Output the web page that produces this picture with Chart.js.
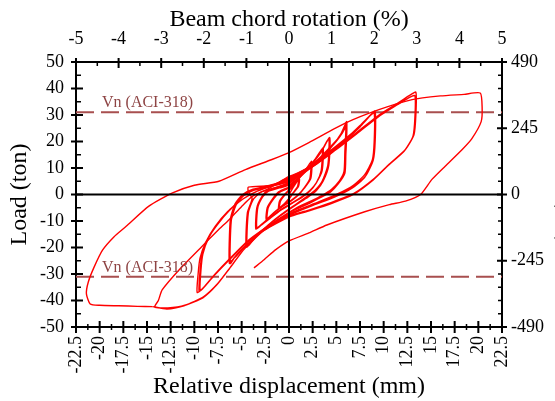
<!DOCTYPE html>
<html>
<head>
<meta charset="utf-8">
<script src="https://cdn.jsdelivr.net/npm/chart.js@4.4.0/dist/chart.umd.min.js"></script>
<style>
  html, body { margin: 0; padding: 0; background: #fff; overflow: hidden; }
  #wrap { position: relative; width: 580px; height: 401px; }
</style>
</head>
<body>
<div id="wrap"><canvas id="hyst"></canvas></div>
<script>
// axis ticks
const dispTicks = [-22.5, -20, -17.5, -15, -12.5, -10, -7.5, -5, -2.5, 0, 2.5, 5, 7.5, 10, 12.5, 15, 17.5, 20, 22.5];
const rotTicks = [-5, -4, -3, -2, -1, 0, 1, 2, 3, 4, 5];
const loadTicks = [-50, -40, -30, -20, -10, 0, 10, 20, 30, 40, 50];
const kNTicks = [-490, -245, 0, 245, 490];

// nominal shear capacity (ton)
const vn = 31;

// load history [displacement mm, load ton], one array per amplitude stage
const stage1 = [[0,0],[0.5,3],[1.0,5.5],[0.9,3],[0.4,0.5],[0,-1.5],[-0.5,-3.5],[-1.0,-5],[-0.9,-2.5],[-0.4,0],[0,1.5],[0.5,3.5],[1.1,6],[1.0,3],[0.4,0.3],[0,-1.8],[-0.5,-3.8],[-1.1,-5.5],[-1.0,-2.5],[-0.4,0.3],[0,1.8]];
const stage2 = [[0,1.8],[0.8,5],[1.6,8.5],[2.3,12],[2.2,6],[1.6,2.5],[1.0,0],[0.3,-2],[-0.6,-4],[-1.5,-6.5],[-2.3,-9],[-2.2,-5],[-1.6,-1.5],[-1.0,0.8],[0,2.5],[0.8,5.5],[1.7,9],[2.4,12.5],[2.3,6],[1.6,2.3],[1.0,-0.2],[0.2,-2.5],[-0.7,-4.5],[-1.6,-7],[-2.4,-9.5],[-2.3,-5],[-1.7,-1.5],[-1.1,1],[0,2.8]];
const stage3 = [[0,2.8],[1.0,6],[2.0,9.5],[2.8,13.5],[3.5,17],[3.4,9],[2.9,4.5],[2.2,1.5],[1.5,-0.5],[0.5,-2.8],[-0.8,-5.5],[-2.0,-8.5],[-2.8,-11],[-3.4,-12.5],[-3.3,-5],[-2.8,-1],[-2.2,1.2],[-1,2.5],[0,3.5],[1.0,6.5],[2.0,10],[2.9,14],[3.6,17.5],[3.5,9],[2.9,4.5],[2.2,1.2],[1.4,-1],[0.4,-3.2],[-0.9,-6],[-2.0,-9],[-2.9,-11.5],[-3.5,-13],[-3.4,-5],[-2.9,-1],[-2.3,1.5],[-1,3],[0,4]];
const stage4 = [[0,4],[1.2,7.5],[2.3,11],[3.3,15.5],[4.2,21],[4.1,11],[3.5,5],[2.8,1.8],[2.0,-0.5],[0.8,-3.5],[-0.8,-7.5],[-2.2,-11.5],[-3.4,-15.5],[-4.4,-19.5],[-4.3,-7],[-3.8,-2],[-3.0,0.8],[-1.5,2.5],[0,4.5],[1.3,8],[2.4,11.5],[3.4,16],[4.3,21.5],[4.2,11],[3.6,5],[2.9,1.5],[2.0,-1],[0.7,-4],[-0.9,-8],[-2.3,-12],[-3.5,-16],[-4.5,-19.8],[-4.4,-7],[-3.9,-1.5],[-4.3,1.2],[-4.3,2.8],[-2,3.3],[0,4.8]];
const stage5 = [[0,4.8],[1.5,8],[3,12],[4.5,18],[5.5,23],[6.1,27.5],[6.0,17],[5.9,9],[5.3,5],[4.5,2],[3.5,-0.3],[2.3,-2.5],[0.8,-5],[-1,-9],[-2.8,-13.5],[-4.5,-19],[-5.6,-23],[-6.2,-26],[-6.1,-10],[-5.6,-4],[-4.8,-0.5],[-3.8,1.5],[-2,3],[0,5],
  [1.5,8.5],[3,12.5],[4.5,18],[5.5,22.5],[6.0,26.5],[5.9,16],[5.8,8.5],[5.2,4.5],[4.4,1.5],[3.4,-0.8],[2.2,-3],[0.6,-5.5],[-1.2,-9.5],[-3,-14],[-4.6,-19.5],[-5.7,-23.5],[-6.3,-26],[-6.2,-10],[-5.7,-4],[-4.9,-0.5],[-3.8,1.7],[-2,3.2],[0,5.2],
  [1.5,8.8],[3,13],[4.5,18.5],[5.6,23],[6.1,26],[6.0,15],[5.9,8],[5.2,4],[4.4,1],[3.3,-1.2],[2.1,-3.4],[0.5,-6],[-1.3,-10],[-3.1,-14.5],[-4.7,-20],[-5.8,-24],[-6.3,-25.5],[-6.2,-9.5],[-5.7,-3.5],[-4.9,0],[-3.8,2],[-2,3.5],[0,5.5]];
const stage6 = [[0,5.5],[2,9.5],[4,14.5],[6,20.5],[7.5,25.5],[8.5,29.5],[9.0,31],[9.0,20],[8.8,13],[8.0,7.5],[6.8,3.5],[5,0],[3,-3],[0.5,-6.5],[-2,-11.5],[-4.2,-17],[-6.2,-24],[-7.8,-30],[-9,-35],[-9.7,-37],[-9.6,-30],[-9.4,-24],[-8.8,-18],[-7.8,-12],[-6.5,-6.5],[-5,-2],[-3.5,1],[-2,3],[0,6],
  [2,10],[4,15],[6,21],[7.5,26],[8.6,30],[9.1,31.5],[9.1,20],[8.9,13],[8.1,7],[6.8,3],[4.9,-0.5],[2.8,-3.5],[0.3,-7],[-2.1,-12],[-4.3,-17.5],[-6.3,-24.5],[-7.9,-30.5],[-9.1,-35.5],[-9.5,-36.5],[-9.4,-29],[-9.2,-23],[-8.6,-17],[-7.6,-11.5],[-6.3,-6],[-4.9,-1.8],[-3.4,1.2],[-1.9,3.2],[0,6.3],
  [2,10.2],[4,15.5],[6,21.2],[7.6,26],[8.6,29.8],[9.0,30.8],[9.0,19.5],[8.8,12.5],[8.0,6.5],[6.7,2.5],[4.8,-1],[2.6,-4],[0.2,-7.5],[-2.2,-12.5],[-4.4,-18],[-6.4,-25],[-8,-31],[-9.1,-35.5],[-9.4,-36],[-9.3,-28.5],[-9.1,-22.5],[-8.5,-16.5],[-7.5,-11],[-6.2,-5.5],[-4.8,-1.5],[-3.3,1.4],[-1.8,3.4],[0,6.5]];
const stage7 = [[0,6.5],[2.5,11],[5,17.5],[7,23],[9.5,30],[11.5,34.5],[12.7,37.3],[13.4,38.6],[13.4,30],[13.2,22.5],[12.3,17],[10.6,11.5],[9,6],[6.9,0.5],[4.5,-3],[2,-6],[0,-8],[-2.5,-13],[-4.6,-20],[-6.2,-27.5],[-7.5,-33.5],[-9,-38.5],[-11,-41.8],[-12.8,-42.8],[-14.2,-42.5],[-13.8,-40],[-13.4,-36],[-11.5,-28],[-9.2,-19.6],[-7.5,-13.5],[-6.3,-9.4],[-5,-4.5],[-3.9,-0.8],[-2,2.5],[0,6.8],
  [2.5,10.5],[5,17],[7,22.5],[9.5,29.5],[11.5,34],[12.6,36.4],[13.3,37.3],[13.3,29],[13.1,22],[12.2,16.5],[10.5,11],[8.9,5.5],[6.8,0],[4.4,-3.5],[1.8,-6.5],[0,-8.5],[-2.6,-13.5],[-4.7,-20.5],[-6.3,-28],[-7.6,-34],[-9.1,-39],[-11.1,-42],[-12.9,-43.2],[-14.4,-42.3]];
const stage8 = [[-14.4,-42.3],[-16,-42.2],[-18,-42],[-20,-41.8],[-21,-41.3],[-21.4,-37.5],[-21.2,-33],[-20.6,-27.5],[-19.7,-21],[-18.5,-16],[-17.2,-12],[-14.8,-4.4],[-12.3,0.6],[-10,3.5],[-7.4,5],[-4.6,9.4],[-1.8,13.2],[0,15.8],[2.1,19.6],[6,27],[9.5,32],[13,35.8],[16,37.2],[18.5,37.8],[20.2,38.3],[20.4,33],[20.3,27.5],[19.3,21],[18.3,17],[16.5,10.7],[15.1,5.7],[13.9,0],[12.3,-2.5],[10.6,-3.8],[8,-6.5],[4,-11.5],[2.1,-14.5],[0,-17.5],[-1.4,-20.8],[-2.6,-24.5],[-3.7,-27.7]];

const stages = [stage1, stage2, stage3, stage4, stage5, stage6, stage7, stage8];

const serif = "'Liberation Serif', 'Times New Roman', serif";
const tickFont = { family: serif, size: 18 };
const titleFont = { family: serif, size: 24 };

function fixTicks(values) {
    return function (scale) {
        scale.ticks = values.map(v => ({ value: v }));
    };
}

// midpoints between majors (or n subdivisions) for the small tick marks
function minorValues(values, n) {
    const out = [];
    for (let i = 0; i < values.length - 1; i++) {
        const step = (values[i + 1] - values[i]) / n;
        for (let k = 1; k < n; k++) out.push(values[i] + k * step);
    }
    return out;
}

function drawTickMarks(ctx, chart, scale, values, outLen, inLen, width) {
    const a = chart.chartArea;
    ctx.lineWidth = width;
    ctx.beginPath();
    values.forEach(v => {
        const p = scale.getPixelForValue(v);
        if (scale.position === 'left') { ctx.moveTo(a.left - outLen, p); ctx.lineTo(a.left + inLen, p); }
        if (scale.position === 'right') { ctx.moveTo(a.right + outLen, p); ctx.lineTo(a.right - inLen, p); }
        if (scale.position === 'top') { ctx.moveTo(p, a.top - outLen); ctx.lineTo(p, a.top + inLen); }
        if (scale.position === 'bottom') { ctx.moveTo(p, a.bottom + outLen); ctx.lineTo(p, a.bottom - inLen); }
    });
    ctx.stroke();
}

const decorations = {
    id: 'decorations',
    afterDatasetsDraw(chart) {
        const { ctx, chartArea: a, scales } = chart;
        ctx.save();
        ctx.strokeStyle = '#000';
        ctx.lineWidth = 2;
        const x0 = scales.x.getPixelForValue(0);
        const y0 = scales.y.getPixelForValue(0);
        ctx.beginPath();
        ctx.moveTo(x0, a.top); ctx.lineTo(x0, a.bottom);
        ctx.moveTo(a.left, y0); ctx.lineTo(a.right, y0);
        ctx.stroke();

        ctx.fillStyle = '#8e4444';
        ctx.font = '16px ' + serif;
        ctx.textBaseline = 'alphabetic';
        ctx.textAlign = 'left';
        [vn, -vn].forEach(v => {
            ctx.fillText('Vn (ACI-318)', a.left + 26, scales.y.getPixelForValue(v) - 5);
        });
        ctx.restore();
    },
    afterDraw(chart) {
        const { ctx, scales } = chart;
        ctx.save();
        ctx.strokeStyle = '#000';
        drawTickMarks(ctx, chart, scales.y, loadTicks, 5, 7, 2);
        drawTickMarks(ctx, chart, scales.y, minorValues(loadTicks, 2), 0, 5, 1.5);
        drawTickMarks(ctx, chart, scales.xTop, rotTicks, 4, 6, 2);
        drawTickMarks(ctx, chart, scales.xTop, minorValues(rotTicks, 2), 0, 4, 1.5);
        drawTickMarks(ctx, chart, scales.x, dispTicks, 6, 6, 2);
        drawTickMarks(ctx, chart, scales.x, minorValues(dispTicks, 2), 3, 3, 1.5);
        drawTickMarks(ctx, chart, scales.yRight, kNTicks, 5, 5, 2);
        drawTickMarks(ctx, chart, scales.yRight, minorValues(kNTicks, 5), 0, 4, 1.5);
        ctx.restore();
    }
};

const datasets = stages.map(st => ({
    data: st.map(p => ({ x: p[0], y: p[1] })),
    showLine: true,
    borderColor: '#ff0000',
    borderWidth: 1.4,
    pointRadius: 0,
    tension: 0.2,
    fill: false,
    order: 0
}));

[vn, -vn].forEach(v => {
    datasets.push({
        data: [{ x: dispTicks[0], y: v }, { x: dispTicks[dispTicks.length - 1], y: v }],
        showLine: true,
        borderColor: '#a84f4f',
        borderWidth: 2,
        borderDash: [18, 7],
        pointRadius: 0,
        fill: false,
        order: 10
    });
});

const ctx = document.getElementById('hyst').getContext('2d');
const border = { display: true, color: '#000', width: 2 };
const noGrid = { display: false, drawTicks: false };

new Chart(ctx, {
    type: 'scatter',
    data: { datasets: datasets },
    options: {
        responsive: true,
        maintainAspectRatio: false,
        animation: false,
        layout: { padding: 0 },
        plugins: {
            legend: { display: false },
            tooltip: { enabled: false }
        },
        scales: {
            x: {
                type: 'linear',
                position: 'bottom',
                min: -22.5,
                max: 22.5,
                afterBuildTicks: fixTicks(dispTicks),
                afterFit: s => { s.height = 74; },
                grid: noGrid,
                border: border,
                ticks: { color: '#000', font: tickFont, minRotation: 90, maxRotation: 90, autoSkip: false, padding: 9, callback: v => String(v) },
                title: { display: true, text: 'Relative displacement (mm)', color: '#000', font: titleFont, padding: { top: 0, bottom: 0 } }
            },
            xTop: {
                type: 'linear',
                position: 'top',
                min: -5,
                max: 5,
                afterBuildTicks: fixTicks(rotTicks),
                afterFit: s => { s.height = 62; },
                grid: noGrid,
                border: border,
                ticks: { color: '#000', font: tickFont, maxRotation: 0, autoSkip: false, padding: 12, callback: v => String(v) },
                title: { display: true, text: 'Beam chord rotation (%)', color: '#000', font: titleFont, padding: { top: 5, bottom: 0 } }
            },
            y: {
                type: 'linear',
                position: 'left',
                min: -50,
                max: 50,
                afterBuildTicks: fixTicks(loadTicks),
                afterFit: s => { s.width = 76; },
                grid: noGrid,
                border: border,
                ticks: { color: '#000', font: tickFont, autoSkip: false, padding: 12, callback: v => String(v) },
                title: { display: true, text: 'Load (ton)', color: '#000', font: titleFont, padding: { top: 5, bottom: 0 } }
            },
            yRight: {
                type: 'linear',
                position: 'right',
                min: -490,
                max: 490,
                afterBuildTicks: fixTicks(kNTicks),
                afterFit: s => { s.width = 78; },
                grid: noGrid,
                border: border,
                ticks: { color: '#000', font: tickFont, autoSkip: false, padding: 9, callback: v => String(v) },
                title: { display: true, text: 'Load (kN)', color: '#000', font: titleFont, padding: { top: 0, bottom: 0 } }
            }
        }
    },
    plugins: [decorations]
});
</script>
</body>
</html>
